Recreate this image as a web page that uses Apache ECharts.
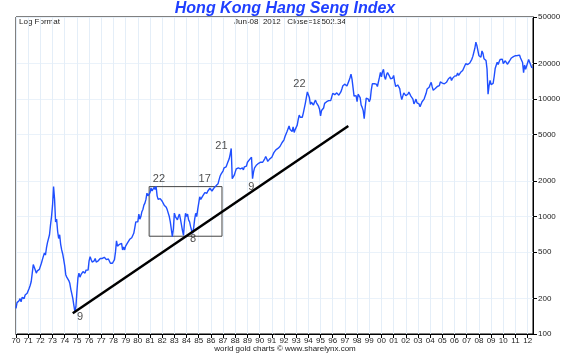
<!DOCTYPE html>
<html><head><meta charset="utf-8">
<script src="https://cdn.jsdelivr.net/npm/echarts@6/dist/echarts.min.js"></script>
<style>html,body{margin:0;padding:0;background:#fff}#c{width:570px;height:356px}</style>
</head><body><div id="c"></div>
<script>
const startYear = 1970;
// monthly closes, Jan 1970 .. Jun 2012
const monthlyClose = [
165,185,178,192,200,188,205,210,200,215,208,222,
230,245,260,280,330,390,370,350,330,345,340,355,
360,400,430,460,490,470,540,600,580,700,850,1000,
1250,1800,1400,900,950,750,650,700,580,520,480,430,
380,320,305,310,285,270,240,220,200,175,155,170,
230,300,330,305,320,310,340,330,330,350,360,350,
420,456,430,410,400,420,440,410,400,420,430,440,
450,440,455,450,445,430,440,435,420,400,390,400,
410,430,500,620,560,540,580,600,590,520,550,520,
560,580,600,620,640,620,660,680,720,800,900,880,
900,1050,950,1000,1100,1150,1250,1300,1400,1580,1500,1470,
1600,1750,1650,1700,1770,1700,1810,1500,1400,1380,1420,1400,
1350,1300,1250,1280,1200,1140,1100,1000,900,780,675,780,
1070,1000,980,936,1000,1050,950,850,760,690,900,1065,
1000,1050,936,900,820,760,720,800,950,1065,1000,1150,
1300,1474,1400,1450,1500,1550,1600,1620,1580,1650,1700,1740,
1700,1650,1700,1750,1780,1825,1850,1900,2050,2200,2300,2340,
2450,2600,2700,2650,2800,2950,3100,3400,3800,2100,2050,2250,
2400,2550,2650,2600,2700,2550,2650,2600,2500,2650,2700,2690,
2900,3000,3050,3150,3200,2100,2400,2600,2700,2750,2650,2840,
2800,2900,2850,2900,3000,3100,3250,3100,2950,3000,3100,3050,
3200,3300,3500,3600,3700,3650,3800,3900,3950,4100,4250,4300,
4500,4800,4900,5300,5400,5900,5500,5600,5300,5800,5200,5500,
5500,6000,6700,7300,7000,7200,7000,7600,7700,9200,9500,11500,
11900,10300,9000,9400,9300,8900,9400,9800,9300,9500,8700,8200,
7200,8000,8200,8400,9200,9300,9500,9200,9700,9600,9700,10000,
11200,11000,10900,11000,11300,10900,10800,11100,11500,12200,13000,13300,
13400,13300,12900,12500,14300,15200,16300,14800,15000,10600,10500,10700,
9500,11000,11400,10300,8900,8500,8000,6800,8500,10200,10400,10000,
9500,10000,12000,13500,13000,13500,13500,13400,12800,13300,15300,16900,
15500,17100,17900,15500,14700,16100,16800,17000,15600,14900,15000,15100,
15900,14000,12800,13300,13200,13000,12300,10800,9900,10000,11300,11400,
10700,10500,11000,11500,11300,10600,10300,10000,9100,9500,10000,9300,
9200,9100,8600,8700,9500,9600,10000,10300,11200,12200,12300,12600,
13300,13900,12700,11900,12200,12300,12200,12800,13100,13000,14000,14200,
13700,14000,13500,13900,13900,14200,14900,14900,15400,14400,15000,14900,
15700,15900,15800,16700,15900,16300,16900,17400,17500,18300,18900,20000,
20100,19700,19800,20300,20600,21800,23100,23900,27100,30500,28600,27800,
23400,24300,22800,25700,24500,22100,22700,21300,18000,11000,13000,14400,
13300,12800,13600,15500,18200,18400,20600,19700,20900,21800,21800,21900,
20100,20600,21200,21100,19800,20100,21000,20500,22400,23100,23000,23000,
23400,23300,23500,23700,23700,22400,22400,20500,16800,19500,17900,18400,
20400,21700,20600,21100,18600,18500
];
const xTickYears = [1970,1971,1972,1973,1974,1975,1976,1977,1978,1979,1980,1981,1982,1983,1984,1985,1986,1987,1988,1989,1990,1991,1992,1993,1994,1995,1996,1997,1998,1999,2000,2001,2002,2003,2004,2005,2006,2007,2008,2009,2010,2011,2012];
const xTickLabels = ['70','71','72','73','74','75','76','77','78','79','80','81','82','83','84','85','86','87','88','89','90','91','92','93','94','95','96','97','98','99','00','01','02','03','04','05','06','07','08','09','10','11','12'];
const yTicks = [100,200,500,1000,2000,5000,10000,20000,50000];
const yTickLabels = ['100','200','500','1000','2000','5000','10000','20000','50000'];
const trendYears = [1974.66, 1997.28];
const trendValues = [150, 5900];
const boxYears = [1980.93, 1986.91];
const boxValues = [680, 1798];
const noteYears = [1981.73, 1985.49, 1984.53, 1986.86, 1989.31, 1993.27, 1975.26];
const noteValues = [2090, 2090, 645, 4018, 1798, 13390, 140];
const noteTexts = ['22', '17', '8', '21', '9', '22', '9'];

const FONT = 'Liberation Sans, Arial, sans-serif';
const lineData = monthlyClose.map((v, i) => [startYear + i / 12, v]);
const labelMap = {};
xTickYears.forEach((y, i) => { labelMap[y] = xTickLabels[i]; });
const yLabelMap = {};
yTicks.forEach((y, i) => { yLabelMap[y] = yTickLabels[i]; });
const boxData = [
  [boxYears[0], boxValues[0]], [boxYears[1], boxValues[0]],
  [boxYears[1], boxValues[1]], [boxYears[0], boxValues[1]],
  [boxYears[0], boxValues[0]]
];
const trendData = trendYears.map((y, i) => [y, trendValues[i]]);
const noteData = noteYears.map((y, i) => ({ value: [y, noteValues[i]], name: noteTexts[i] }));

const chart = echarts.init(document.getElementById('c'), null, { renderer: 'canvas' });
chart.setOption({
  animation: false,
  backgroundColor: '#fff',
  title: {
    text: 'Hong Kong Hang Seng Index', left: 'center', top: 0, padding: 0,
    textStyle: { color: '#1f3fff', fontSize: 16, fontWeight: 'bold', fontStyle: 'italic', fontFamily: FONT, lineHeight: 17 }
  },
  grid: { left: 16, right: 37, top: 17, bottom: 22, show: true, borderColor: '#000', borderWidth: 1, backgroundColor: 'transparent' },
  xAxis: {
    type: 'value', min: 1970, max: 2012.44,
    axisLine: { show: true, lineStyle: { color: '#000', width: 1 } },
    axisTick: { show: true, customValues: xTickYears, length: 4, lineStyle: { color: '#000' } },
    axisLabel: { customValues: xTickYears, formatter: v => labelMap[Math.round(v)] || '', color: '#222', fontSize: 8, fontFamily: FONT, margin: 3 },
    splitLine: { show: true, lineStyle: { color: '#e4eef8', width: 1 } }
  },
  yAxis: {
    type: 'log', logBase: 10, min: 100, max: 50000, position: 'right',
    axisLine: { show: true, lineStyle: { color: '#000', width: 1 } },
    axisTick: { show: true, customValues: yTicks, length: 4, lineStyle: { color: '#000' } },
    axisLabel: { customValues: yTicks, formatter: v => yLabelMap[Math.round(v)] || String(Math.round(v)), color: '#222', fontSize: 8, fontFamily: FONT, margin: 5 },
    splitLine: { show: true, lineStyle: { color: '#eaf2fa', width: 1 } }
  },
  graphic: [
    { type: 'text', left: 19, top: 18, style: { text: 'Log Format', fill: '#222', font: '8px ' + FONT } },
    { type: 'text', left: 234, top: 18, style: { text: 'Jun-08  2012   Close=18502.34', fill: '#222', font: '8px ' + FONT } },
    { type: 'text', left: 'center', top: 345, style: { text: 'world gold charts \u00a9 www.sharelynx.com', fill: '#222', font: '8px ' + FONT } }
  ],
  series: [
    { type: 'line', data: lineData, showSymbol: false, symbol: 'none', lineStyle: { color: '#1f4fff', width: 1.4 }, z: 3 },
    { type: 'line', data: boxData, showSymbol: false, symbol: 'none', lineStyle: { color: '#444', width: 1 }, z: 2 },
    { type: 'line', data: trendData, showSymbol: false, symbol: 'none', lineStyle: { color: '#000', width: 2.5 }, z: 4 },
    { type: 'scatter', data: noteData, symbolSize: 0, z: 5,
      label: { show: true, position: 'inside', formatter: p => p.name, color: '#222', fontSize: 11, fontFamily: FONT } }
  ]
});
</script></body></html>
